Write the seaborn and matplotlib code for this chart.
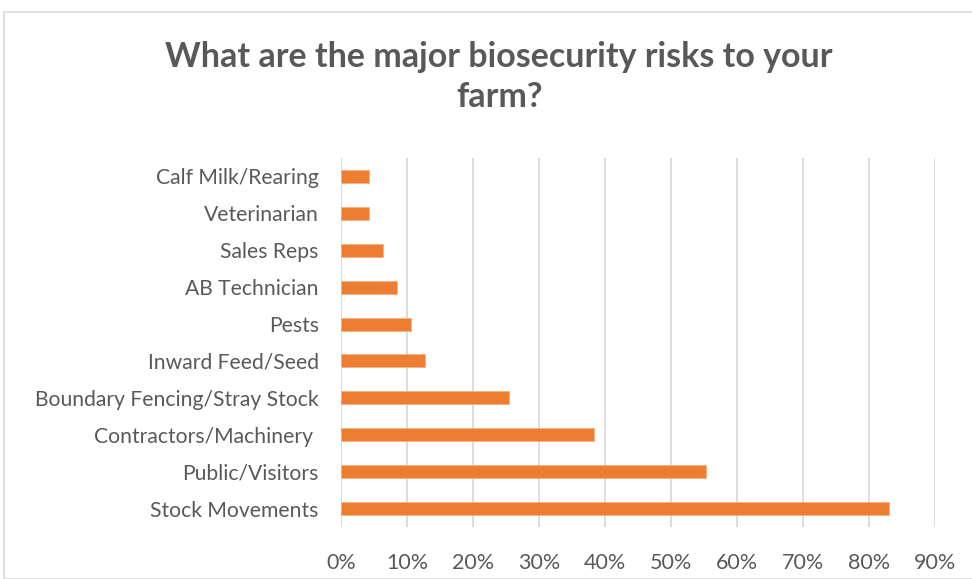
import matplotlib
matplotlib.use("Agg")
import matplotlib.pyplot as plt
import seaborn as sns
import pandas as pd
from matplotlib.patches import Rectangle
from matplotlib.ticker import PercentFormatter

categories = [
    "Calf Milk/Rearing",
    "Veterinarian",
    "Sales Reps",
    "AB Technician",
    "Pests",
    "Inward Feed/Seed",
    "Boundary Fencing/Stray Stock",
    "Contractors/Machinery ",
    "Public/Visitors",
    "Stock Movements",
]
shares = [0.043, 0.043, 0.064, 0.085, 0.106, 0.128, 0.255, 0.383, 0.553, 0.830]
xticks = [0.0, 0.1, 0.2, 0.3, 0.4, 0.5, 0.6, 0.7, 0.8, 0.9]

df = pd.DataFrame({"risk": categories, "share": shares})

sns.set_theme(style="white")
plt.rcParams["font.family"] = ["Lato", "DejaVu Sans"]

text_grey = "#595959"
grid_grey = "#D9D9D9"
bar_orange = "#ED7D31"

fig = plt.figure(figsize=(9.72, 5.79), dpi=100)
ax = fig.add_axes([341 / 972, 1 - 527 / 579, (935 - 341) / 972, (527 - 158) / 579])

sns.barplot(data=df, x="share", y="risk", orient="h", color=bar_orange,
            width=0.35, saturation=1, ax=ax, edgecolor="#F4B183", linewidth=0.6,
            zorder=3)

ax.set_xlim(0, 0.9)
ax.set_ylim(len(categories) - 0.5, -0.5)
ax.set_xticks(xticks)
ax.xaxis.set_major_formatter(PercentFormatter(1.0, decimals=0))
ax.grid(axis="x", color=grid_grey, linewidth=1.3, zorder=0)
ax.grid(axis="y", visible=False)
for s in ax.spines.values():
    s.set_visible(False)
ax.set_xlabel("")
ax.set_ylabel("")
ax.tick_params(axis="x", colors=text_grey, labelsize=15.5, length=0, pad=19)
ax.tick_params(axis="y", colors=text_grey, labelsize=15.2, length=0, pad=16)
for lbl in ax.get_xticklabels() + ax.get_yticklabels():
    lbl.set_color(text_grey)

fig.text(499 / 972, 1 - 77 / 579,
         "What are the major biosecurity risks to your\nfarm?",
         ha="center", va="center", fontsize=24.5, fontweight="bold",
         color=text_grey, linespacing=1.3)

fig.patches.append(Rectangle((4 / 972, 0), 1.2, 1 - 12 / 579,
                             transform=fig.transFigure, fill=False,
                             edgecolor=grid_grey, linewidth=1.2))

fig.savefig("out.png", dpi=100, facecolor="white")
